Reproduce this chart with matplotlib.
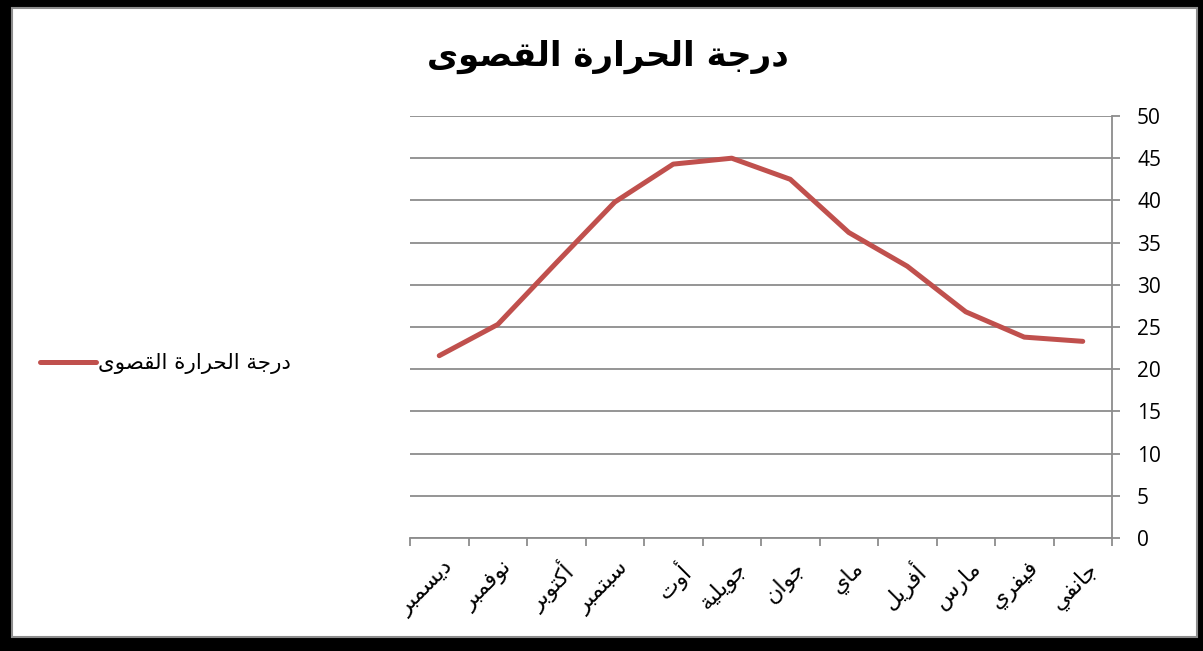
import matplotlib.pyplot as plt
import matplotlib.patches as mpatches
import matplotlib.transforms as mtransforms
import numpy as np

# data (logical arabic text, january first)
title = "درجة الحرارة القصوى"
series_name = "درجة الحرارة القصوى"
months = ["جانفي", "فيفري", "مارس", "أفريل", "ماي", "جوان",
          "جويلية", "أوت", "سبتمبر", "أكتوبر", "نوفمبر", "ديسمبر"]
max_temp = [23.3, 23.8, 26.8, 32.2, 36.2, 42.5, 45.0, 44.3, 39.8, 32.6, 25.3, 21.6]
y_ticks = [0, 5, 10, 15, 20, 25, 30, 35, 40, 45, 50]

# arabic presentation forms: (isolated, final, initial, medial)
FORMS = {
    'ا': (0xFE8D, 0xFE8E, None, None),
    'أ': (0xFE83, 0xFE84, None, None),
    'ب': (0xFE8F, 0xFE90, 0xFE91, 0xFE92),
    'ة': (0xFE93, 0xFE94, None, None),
    'ت': (0xFE95, 0xFE96, 0xFE97, 0xFE98),
    'ج': (0xFE9D, 0xFE9E, 0xFE9F, 0xFEA0),
    'ح': (0xFEA1, 0xFEA2, 0xFEA3, 0xFEA4),
    'د': (0xFEA9, 0xFEAA, None, None),
    'ر': (0xFEAD, 0xFEAE, None, None),
    'س': (0xFEB1, 0xFEB2, 0xFEB3, 0xFEB4),
    'ص': (0xFEB9, 0xFEBA, 0xFEBB, 0xFEBC),
    'ف': (0xFED1, 0xFED2, 0xFED3, 0xFED4),
    'ق': (0xFED5, 0xFED6, 0xFED7, 0xFED8),
    'ك': (0xFED9, 0xFEDA, 0xFEDB, 0xFEDC),
    'ل': (0xFEDD, 0xFEDE, 0xFEDF, 0xFEE0),
    'م': (0xFEE1, 0xFEE2, 0xFEE3, 0xFEE4),
    'ن': (0xFEE5, 0xFEE6, 0xFEE7, 0xFEE8),
    'و': (0xFEED, 0xFEEE, None, None),
    'ى': (0xFEEF, 0xFEF0, None, None),
    'ي': (0xFEF1, 0xFEF2, 0xFEF3, 0xFEF4),
}


def shape(text):
    # minimal arabic shaping, then reverse for left-to-right drawing
    out = []
    for i, ch in enumerate(text):
        if ch not in FORMS:
            out.append(ch)
            continue
        f = FORMS[ch]
        prev = text[i - 1] if i > 0 else None
        nxt = text[i + 1] if i + 1 < len(text) else None
        join_prev = prev in FORMS and FORMS[prev][2] is not None
        join_next = f[2] is not None and nxt in FORMS
        if join_prev and join_next:
            code = f[3]
        elif join_prev:
            code = f[1]
        elif join_next:
            code = f[2]
        else:
            code = f[0]
        out.append(chr(code))
    return ''.join(out)[::-1]


plt.rcParams['font.family'] = ['DejaVu Sans']

fig = plt.figure(figsize=(12.03, 6.51), dpi=100, facecolor='black')
fig.patches.append(mpatches.Rectangle((12 / 1203, 14 / 651), 1185 / 1203, 629 / 651,
                                      transform=fig.transFigure, facecolor='white',
                                      edgecolor='#8c8c8c', lw=1.5, zorder=-1))

ax = fig.add_axes([410 / 1203, 113 / 651, 702 / 1203, 422 / 651])
ax.set_facecolor('none')
ax.set_zorder(2)

x = np.arange(len(months))
ax.plot(x, max_temp, color='#C0504D', lw=3.6, solid_joinstyle='round',
        solid_capstyle='round', label=shape(series_name), zorder=3)

ax.set_xlim(-0.5, len(months) - 0.5)
ax.invert_xaxis()
ax.set_ylim(0, 50)

grid_c = '#8c8c8c'
ax.yaxis.tick_right()
ax.set_yticks(y_ticks)
ax.set_yticklabels([str(v) for v in y_ticks], fontsize=15, family=['Open Sans'])
ax.yaxis.grid(True, color=grid_c, lw=1.3)
ax.tick_params(axis='y', length=6, width=1.3, color=grid_c, pad=12)

ax.set_xticks(np.arange(-0.5, len(months)))
ax.set_xticklabels([])
ax.set_xticks(x, minor=True)
ax.set_xticklabels([shape(m) for m in months], minor=True, rotation=45,
                   ha='right', va='top', rotation_mode='anchor', fontsize=16)
ax.tick_params(axis='x', which='major', length=6, width=1.3, color=grid_c)
ax.tick_params(axis='x', which='minor', length=0, pad=14)
shift = mtransforms.ScaledTranslation(4 / 100, 0, fig.dpi_scale_trans)
for lbl in ax.get_xticklabels(minor=True):
    lbl.set_transform(lbl.get_transform() + shift)

for s in ['top', 'left']:
    ax.spines[s].set_visible(False)
for s in ['right', 'bottom']:
    ax.spines[s].set_color(grid_c)
    ax.spines[s].set_linewidth(1.3)

fig.text(608 / 1203, 1 - 57 / 651, shape(title), ha='center', va='center',
         fontsize=24.5, fontweight='bold', zorder=3)

ax.legend(loc='center left', bbox_to_anchor=(40 / 1203, 1 - 364 / 651),
          bbox_transform=fig.transFigure, frameon=False, fontsize=15.4,
          handlelength=2.6, handletextpad=0.1, borderpad=0, borderaxespad=0)

fig.savefig('out.png', dpi=100, facecolor=fig.get_facecolor())
